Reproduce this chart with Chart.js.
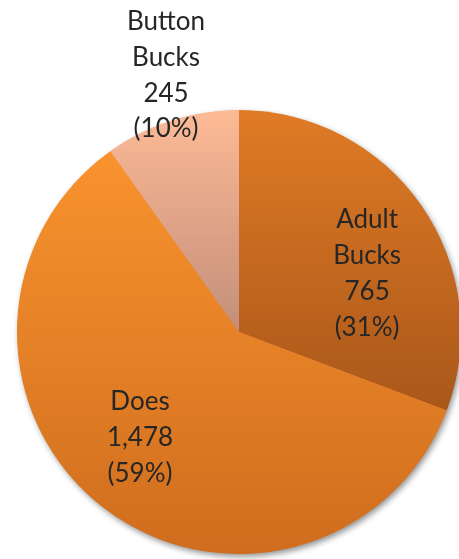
<!DOCTYPE html>
<html>
<head>
<meta charset="utf-8">
<title>Deer harvest</title>
<script src="https://cdn.jsdelivr.net/npm/chart.js@4.4.1/dist/chart.umd.min.js"></script>
<style>
  html, body { margin: 0; padding: 0; background: #fff; overflow: hidden; }
  #wrap { width: 470px; height: 559px; }
</style>
</head>
<body>
<div id="wrap"><canvas id="deerChart" width="470" height="559"></canvas></div>
<script>
// harvest counts
const categories = ["Adult Bucks", "Does", "Button Bucks"];
const harvestCounts = [765, 1478, 245];

// vertical gradient per slice (top colour -> bottom colour)
const colorsTop = ["#E07B25", "#F9932E", "#FDBA96"];
const colorsBottom = ["#A9571A", "#CF6D1E", "#C28E7A"];

// label placement: fraction of radius, and angle nudge in degrees
const labelRadius = [0.635, 0.65, 1.205];
const labelNudge = [10, 5.7, 1.9];

const total = harvestCounts.reduce((a, b) => a + b, 0);

// y-extent of a slice so each gradient spans only its own wedge
function sliceExtent(i, cy, r) {
    let before = 0;
    for (let k = 0; k < i; k++) before += harvestCounts[k];
    const a0 = before / total * Math.PI * 2;
    const a1 = (before + harvestCounts[i]) / total * Math.PI * 2;
    const ys = [cy, cy - r * Math.cos(a0), cy - r * Math.cos(a1)];
    if (a0 <= 0) ys.push(cy - r);
    if (a0 <= Math.PI && a1 >= Math.PI) ys.push(cy + r);
    return [Math.min(...ys), Math.max(...ys)];
}

function sliceFill(context) {
    const chart = context.chart;
    const area = chart.chartArea;
    const i = context.dataIndex;
    if (!area) return colorsTop[i];
    const r = Math.min(area.width, area.height) / 2;
    const cy = (area.top + area.bottom) / 2;
    const [y0, y1] = sliceExtent(i, cy, r);
    const g = chart.ctx.createLinearGradient(0, y0, 0, y1);
    g.addColorStop(0, colorsTop[i]);
    g.addColorStop(1, colorsBottom[i]);
    return g;
}

const pieShadow = {
    id: "pieShadow",
    beforeDatasetsDraw(chart) {
        const arc = chart.getDatasetMeta(0).data[0];
        if (!arc) return;
        const { x, y, outerRadius } = arc.getProps(["x", "y", "outerRadius"], true);
        const ctx = chart.ctx;
        ctx.save();
        ctx.shadowColor = "rgba(0,0,0,0.45)";
        ctx.shadowBlur = 6;
        ctx.shadowOffsetX = 2;
        ctx.shadowOffsetY = 3;
        ctx.fillStyle = "#E8822A";
        ctx.beginPath();
        ctx.arc(x, y, outerRadius - 0.5, 0, Math.PI * 2);
        ctx.fill();
        ctx.restore();
    }
};

const sliceLabels = {
    id: "sliceLabels",
    afterDatasetsDraw(chart) {
        const ctx = chart.ctx;
        const meta = chart.getDatasetMeta(0);
        ctx.save();
        ctx.font = "26px Lato";
        ctx.fillStyle = "#262626";
        ctx.textAlign = "center";
        ctx.textBaseline = "alphabetic";
        meta.data.forEach((arc, i) => {
            const p = arc.getProps(["x", "y", "startAngle", "endAngle", "outerRadius"], true);
            const mid = (p.startAngle + p.endAngle) / 2 + labelNudge[i] * Math.PI / 180;
            const dist = p.outerRadius * labelRadius[i];
            const cx = p.x + Math.cos(mid) * dist;
            const cy = p.y + Math.sin(mid) * dist;
            const v = harvestCounts[i];
            const lines = categories[i].split(" ").concat([
                v.toLocaleString("en-US"),
                "(" + Math.round(v / total * 100) + "%)"
            ]);
            const lh = 35.8;
            lines.forEach((t, j) => {
                ctx.fillText(t, cx, cy + (j - (lines.length - 1) / 2) * lh + 9);
            });
        });
        ctx.restore();
    }
};

new Chart(document.getElementById("deerChart"), {
    type: "pie",
    data: {
        labels: categories,
        datasets: [{
            data: harvestCounts,
            backgroundColor: sliceFill,
            borderWidth: 0
        }]
    },
    options: {
        responsive: false,
        animation: false,
        events: [],
        layout: { padding: { left: 17, top: 110, right: 9, bottom: 5 } },
        plugins: {
            legend: { display: false },
            tooltip: { enabled: false }
        }
    },
    plugins: [pieShadow, sliceLabels]
});
</script>
</body>
</html>
